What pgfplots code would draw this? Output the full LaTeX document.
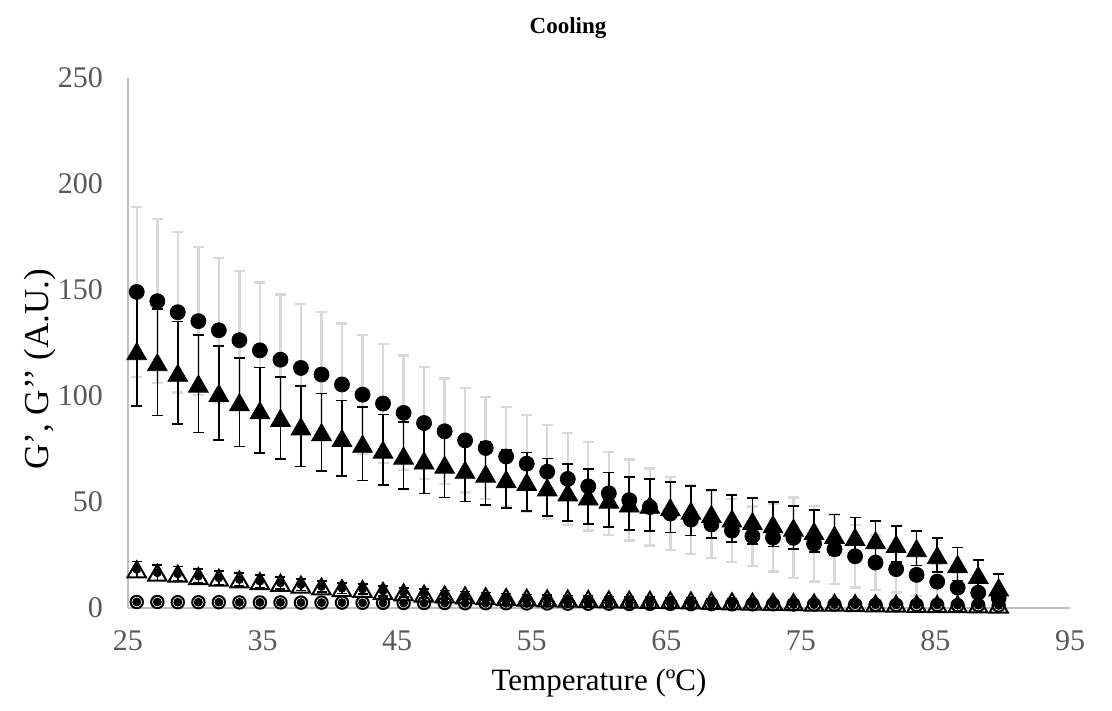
\documentclass[border=0pt]{standalone}
\usepackage{pgfplots}
\pgfplotsset{compat=1.18}
\usepackage{pgfplotstable}
\usepackage{fontspec}
\setmainfont{Liberation Serif}
\definecolor{ebgrey}{HTML}{D9D9D9}
\definecolor{axgrey}{HTML}{BFBFBF}
\definecolor{tickgrey}{HTML}{595959}

% x: temperature; c/t: filled circles/triangles; oc/ot: open circles/triangles; *e: error
\pgfplotstableread{
x      c      ce    t      te    ot    ote   oc   oce
25.65  149.0  40.2  121.0  26.0  18.0  3.8   2.6  0.9
27.18  144.6  38.7  115.8  25.2  16.4  3.6   2.6  0.9
28.70  139.4  37.9  110.8  24.3  15.9  3.4   2.5  0.9
30.23  135.2  35.0  105.7  23.0  14.8  3.3   2.5  0.9
31.75  130.9  34.2  101.3  22.1  14.0  3.1   2.5  0.8
33.28  126.2  32.6   96.9  20.8  13.2  3.0   2.4  0.8
34.80  121.4  32.0   93.1  20.2  12.4  2.9   2.4  0.8
36.33  117.0  30.8   89.5  19.3  11.6  2.8   2.4  0.8
37.85  113.1  30.3   85.5  19.0  10.8  2.7   2.3  0.8
39.38  110.0  29.6   82.8  18.3   9.9  2.6   2.3  0.8
40.90  105.3  28.8   80.0  17.8   9.1  2.5   2.3  0.7
42.43  100.5  28.1   77.3  17.3   8.7  2.4   2.2  0.7
43.95   96.3  28.2   74.5  16.6   7.8  2.3   2.2  0.7
45.48   91.9  27.1   71.7  15.8   7.1  2.2   2.1  0.7
47.00   87.1  26.5   69.4  15.6   6.5  2.1   2.1  0.7
48.53   83.2  25.0   67.4  15.5   6.1  2.0   2.1  0.7
50.05   78.9  24.6   65.0  15.0   5.7  1.9   2.0  0.7
51.58   75.3  24.1   63.2  14.9   5.3  1.8   2.0  0.6
53.10   71.3  23.4   60.6  13.7   4.9  1.7   2.0  0.6
54.63   67.9  22.9   59.3  13.8   4.6  1.6   1.9  0.6
56.15   64.1  22.2   56.7  13.6   4.3  1.5   1.9  0.6
57.68   60.7  21.7   54.3  13.4   4.2  1.5   1.8  0.6
59.20   57.2  20.9   52.4  13.0   4.0  1.4   1.8  0.6
60.73   53.9  19.6   50.9  12.8   3.8  1.4   1.8  0.6
62.25   50.7  19.1   49.1  12.5   3.7  1.3   1.7  0.6
63.78   47.4  18.2   48.5  12.3   3.6  1.3   1.7  0.5
65.30   44.4  17.2   47.3  11.9   3.4  1.2   1.7  0.5
66.83   41.5  16.1   45.7  11.7   3.3  1.2   1.6  0.5
68.35   39.2  15.9   44.1  11.4   3.1  1.1   1.6  0.5
69.88   36.3  14.9   42.0  11.0   2.9  1.1   1.5  0.5
71.40   33.7  14.0   40.8  10.8   2.7  1.0   1.5  0.5
72.93   33.0  16.0   39.3  10.5   2.6  1.0   1.5  0.5
74.45   32.9  19.0   37.7  10.2   2.5  1.0   1.4  0.5
75.98   30.1  17.9   36.1  10.0   2.3  0.9   1.4  0.5
77.50   27.5  16.5   34.3   9.6   2.2  0.9   1.4  0.4
79.03   24.2  14.7   33.3   9.2   2.0  0.9   1.3  0.4
80.55   21.2  12.8   31.8   9.0   1.9  0.8   1.3  0.4
82.08   18.1  11.1   30.0   8.6   1.8  0.8   1.2  0.4
83.60   15.4  10.0   28.0   8.2   1.7  0.8   1.2  0.4
85.13   12.2   8.5   24.7   8.0   1.6  0.7   1.2  0.4
86.65    9.4   7.0   20.5   7.8   1.5  0.7   1.1  0.4
88.18    7.0   5.5   15.4   7.1   1.4  0.7   1.1  0.4
89.70    4.5   4.0    9.5   6.3   1.3  0.6   1.0  0.4
}\datatable

\begin{document}
\begin{tikzpicture}
\path[use as bounding box] (-64pt,-51.75pt) rectangle (492pt,303.75pt);
\begin{axis}[
  at={(0,0)}, anchor=south west,
  scale only axis,
  width=471pt, height=264.75pt,
  xmin=25, xmax=95, ymin=0, ymax=250,
  xtick={25,35,...,95}, ytick={0,50,...,250},
  axis lines=left,
  axis line style={-, draw=axgrey, line width=1pt},
  major tick length=0pt,
  clip=false,
  tick label style={font=\fontsize{15}{18}\selectfont, text=tickgrey},
  /pgf/number format/assume math mode=true,
  xticklabel style={yshift=-8pt},
  yticklabel style={xshift=-9pt},
  xlabel={Temperature (ºC)},
  ylabel={G’, G’’ (A.U.)},
  label style={font=\fontsize{15.5}{18}\selectfont},
  xlabel style={at={(axis description cs:0.5,0)}, anchor=center, yshift=-37.75pt},
  ylabel style={at={(axis description cs:0,0.45)}, anchor=center, yshift=44pt, font=\fontsize{17.5}{20}\selectfont},
]
% error bars of the filled series (drawn first, behind the markers)
\addplot[only marks, mark=none,
  error bars/.cd, y dir=both, y explicit, error mark=-,
  error bar style={line width=1.2pt, draw=ebgrey},
  error mark options={rotate=90, line width=1.2pt, draw=ebgrey, mark size=2.75pt}]
  table[x=x, y=c, y error=ce] {\datatable};
\addplot[only marks, mark=none,
  error bars/.cd, y dir=both, y explicit, error mark=-,
  error bar style={line width=0.8pt, draw=black},
  error mark options={rotate=90, line width=0.8pt, draw=black, mark size=2.75pt}]
  table[x=x, y=t, y error=te] {\datatable};
% filled markers
\addplot[only marks, mark=*, mark size=3.75pt, mark options={fill=black, draw=black}]
  table[x=x, y=c] {\datatable};
\addplot[only marks, mark=triangle*, mark size=5.7pt,
  mark options={fill=black, draw=black, yshift=-1.4pt}]
  table[x=x, y=t] {\datatable};
% open series
\addplot[only marks, mark=none,
  error bars/.cd, y dir=both, y explicit, error mark=-,
  error bar style={line width=0.8pt, draw=black},
  error mark options={rotate=90, line width=0.8pt, draw=black, mark size=2.5pt}]
  table[x=x, y=ot, y error=ote] {\datatable};
\addplot[only marks, mark=triangle, mark size=5.3pt,
  mark options={draw=black, fill=none, line width=1pt, yshift=-1.3pt}]
  table[x=x, y=ot] {\datatable};
\addplot[only marks, mark=none,
  error bars/.cd, y dir=both, y explicit, error mark=-,
  error bar style={line width=0.8pt, draw=gray!60},
  error mark options={rotate=90, line width=0.8pt, draw=gray!60, mark size=2pt}]
  table[x=x, y=oc, y error=oce] {\datatable};
\addplot[only marks, mark=o, mark size=3.1pt,
  mark options={draw=black, fill=none, line width=1pt}]
  table[x=x, y=oc] {\datatable};
\end{axis}
\node[font=\bfseries\fontsize{11.5}{13}\selectfont] at (220pt,289.75pt) {Cooling};
\end{tikzpicture}
\end{document}
